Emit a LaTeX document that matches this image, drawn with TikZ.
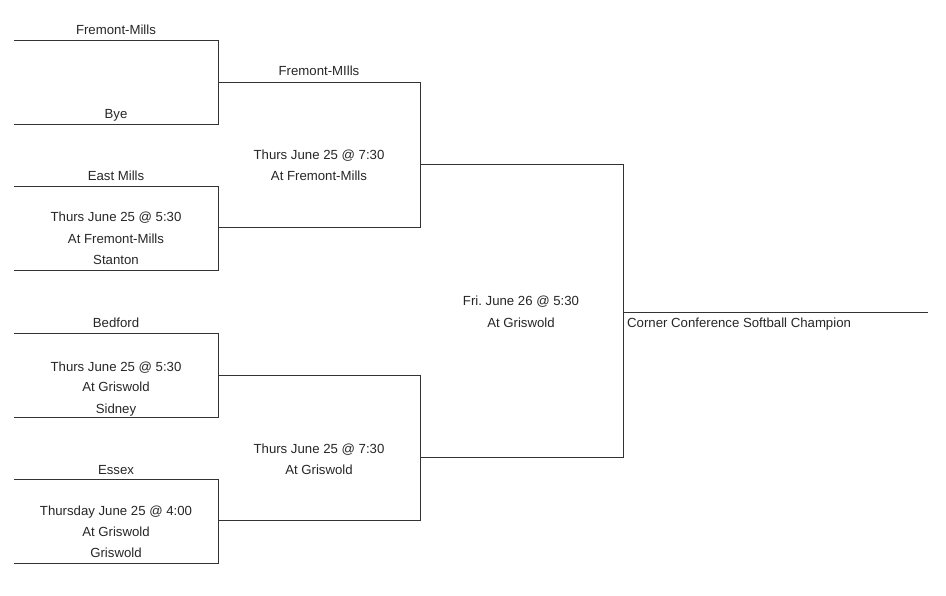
\documentclass[tikz,border=0pt]{standalone}
\usepackage{fontspec}
\setmainfont{Liberation Sans}
\frenchspacing
\begin{document}
\begin{tikzpicture}[x=1pt,y=-1pt,
  bline/.style={draw=black!80,line width=0.95pt},
  lbl/.style={anchor=base,inner sep=0pt,font=\fontsize{13.2}{15}\selectfont,text=black!85}]
\useasboundingbox (0,0) rectangle (946,596);
% round 1 end points
\coordinate (a1) at (14,40);  \coordinate (a2) at (218,40);
\coordinate (b1) at (14,124); \coordinate (b2) at (218,124);
\coordinate (c1) at (14,186); \coordinate (c2) at (218,186);
\coordinate (d1) at (14,270); \coordinate (d2) at (218,270);
\coordinate (e1) at (14,333); \coordinate (e2) at (218,333);
\coordinate (f1) at (14,417); \coordinate (f2) at (218,417);
\coordinate (g1) at (14,479); \coordinate (g2) at (218,479);
\coordinate (h1) at (14,563); \coordinate (h2) at (218,563);
% round 2
\coordinate (p1) at (218,82);  \coordinate (p2) at (420,82);
\coordinate (q1) at (218,227); \coordinate (q2) at (420,227);
\coordinate (r1) at (218,375); \coordinate (r2) at (420,375);
\coordinate (s1) at (218,520); \coordinate (s2) at (420,520);
% round 3
\coordinate (t1) at (420,164); \coordinate (t2) at (623,164);
\coordinate (u1) at (420,457); \coordinate (u2) at (623,457);
% final
\coordinate (v1) at (623,312); \coordinate (v2) at (928,312);

\draw[bline] (a1) -- (a2) -- (b2) -- (b1);
\draw[bline] (c1) -- (c2) -- (d2) -- (d1);
\draw[bline] (e1) -- (e2) -- (f2) -- (f1);
\draw[bline] (g1) -- (g2) -- (h2) -- (h1);
\draw[bline] (p1) -- (p2) -- (q2) -- (q1);
\draw[bline] (r1) -- (r2) -- (s2) -- (s1);
\draw[bline] (t1) -- (t2) -- (u2) -- (u1);
\draw[bline] (v1) -- (v2);

% labels round 1
\node[lbl] (la) at (116,35) {Fremont-Mills};
\node[lbl] (lb) at (116,119) {Bye};
\node[lbl] (lc) at (116,181) {East Mills};
\node[lbl] (lc1) at (116,222) {Thurs June 25 @ 5:30};
\node[lbl] (lc2) at (116,244) {At Fremont-Mills};
\node[lbl] (ld) at (116,265) {Stanton};
\node[lbl] (le) at (116,328) {Bedford};
\node[lbl] (le1) at (116,371) {Thurs June 25 @ 5:30};
\node[lbl] (le2) at (116,391) {At Griswold};
\node[lbl] (lf) at (116,413) {Sidney};
\node[lbl] (lg) at (116,474) {Essex};
\node[lbl] (lg1) at (116,515) {Thursday June 25 @ 4:00};
\node[lbl] (lg2) at (116,536) {At Griswold};
\node[lbl] (lh) at (116,557) {Griswold};
% round 2
\node[lbl] (lp) at (319,76) {Fremont-MIlls};
\node[lbl] (lp1) at (319,160) {Thurs June 25 @ 7:30};
\node[lbl] (lp2) at (319,181) {At Fremont-Mills};
\node[lbl] (lr1) at (319,453) {Thurs June 25 @ 7:30};
\node[lbl] (lr2) at (319,474) {At Griswold};
% round 3
\node[lbl] (lt1) at (521,306) {Fri. June 26 @ 5:30};
\node[lbl] (lt2) at (521,327) {At Griswold};
% champion
\node[lbl,anchor=base west] (lv) at (627,327) {Corner Conference Softball Champion};
\end{tikzpicture}
\end{document}
